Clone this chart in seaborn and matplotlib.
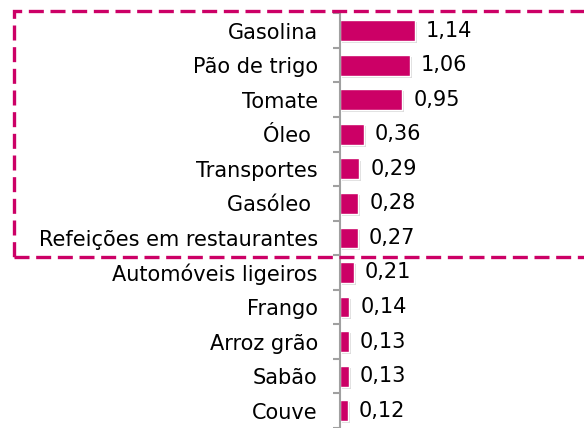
import matplotlib
matplotlib.use("Agg")
import matplotlib.pyplot as plt
import matplotlib.patheffects as pe
from matplotlib.patches import Rectangle
import pandas as pd
import seaborn as sns

categories = [
    "Gasolina", "Pão de trigo", "Tomate", "Óleo ", "Transportes", "Gasóleo ",
    "Refeições em restaurantes", "Automóveis ligeiros", "Frango", "Arroz grão",
    "Sabão", "Couve",
]
values = [1.14, 1.06, 0.95, 0.36, 0.29, 0.28, 0.27, 0.21, 0.14, 0.13, 0.13, 0.12]
value_labels = ["1,14", "1,06", "0,95", "0,36", "0,29", "0,28", "0,27",
                "0,21", "0,14", "0,13", "0,13", "0,12"]

bar_color = "#CC0066"
df = pd.DataFrame({"produto": categories, "valor": values})

sns.set_style("white")
plt.rcParams["font.family"] = ["DejaVu Sans"]

fig = plt.figure(figsize=(5.84, 4.28), dpi=100)
ax = fig.add_axes([340 / 584, 0, 244 / 584, 1 - 13.3 / 428])

sns.barplot(data=df, x="valor", y="produto", orient="h", color=bar_color,
            saturation=1, width=0.6, ax=ax)

for p in ax.patches:
    p.set_path_effects([pe.SimplePatchShadow(offset=(1.5, -1.5), alpha=0.3,
                                             shadow_rgbFace="#888888"),
                        pe.Normal()])

for i, (v, lab) in enumerate(zip(values, value_labels)):
    ax.annotate(lab, (v, i), xytext=(8, 0), textcoords="offset points",
                va="center", ha="left", fontsize=15, color="black")

ax.set_xlim(0, 3.72)
ax.set_ylim(len(categories) - 0.5, -0.5)
ax.set_xlabel("")
ax.set_ylabel("")
ax.set_xticks([])
ax.tick_params(axis="y", which="major", length=0, pad=16, labelsize=15,
               labelcolor="black")
ax.set_yticks([i + 0.5 for i in range(-1, len(categories))], minor=True)
ax.tick_params(axis="y", which="minor", left=True, length=5, width=1.5,
               color="#A0A0A0", direction="out")
for s in ["top", "right", "bottom"]:
    ax.spines[s].set_visible(False)
ax.spines["left"].set_color("#A0A0A0")
ax.spines["left"].set_linewidth(1.5)

box = Rectangle((14 / 584, 1 - 257 / 428), 600 / 584, (257 - 11.5) / 428,
                transform=fig.transFigure, fill=False, edgecolor=bar_color,
                linewidth=2.4, linestyle=(0, (4.5, 2)), clip_on=False)
fig.patches.append(box)

fig.savefig("out.png", dpi=100)
